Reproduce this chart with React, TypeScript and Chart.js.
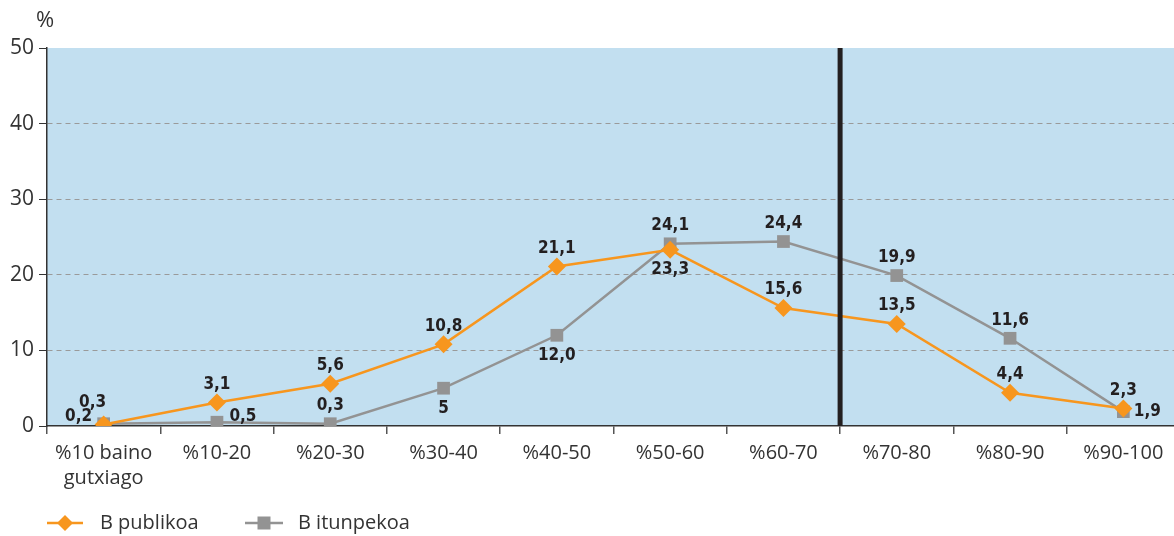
import React, { useEffect, useRef } from "react";
import { Chart, registerables } from "chart.js";

Chart.register(...registerables);

const categories: (string | string[])[] = [
  ["%10 baino", "gutxiago"],
  "%10-20",
  "%20-30",
  "%30-40",
  "%40-50",
  "%50-60",
  "%60-70",
  "%70-80",
  "%80-90",
  "%90-100",
];

const publikoa = [0.2, 3.1, 5.6, 10.8, 21.1, 23.3, 15.6, 13.5, 4.4, 2.3];
const itunpekoa = [0.3, 0.5, 0.3, 5, 12.0, 24.1, 24.4, 19.9, 11.6, 1.9];

const publikoaLabels = ["0,2", "3,1", "5,6", "10,8", "21,1", "23,3", "15,6", "13,5", "4,4", "2,3"];
const itunpekoaLabels = ["0,3", "0,5", "0,3", "5", "12,0", "24,1", "24,4", "19,9", "11,6", "1,9"];

const yTicks = [0, 10, 20, 30, 40, 50];

// label placement (style, not data)
const publikoaPlace = ["left", "above", "above", "above", "above", "below", "above", "above", "above", "above"];
const itunpekoaPlace = ["aboveLeft", "rightUp", "above", "below", "below", "above", "above", "above", "above", "right"];

const ORANGE = "#F7961E";
const GRAY = "#939393";
const BG = "#C2DFF0";
const TEXT = "#333333";

const offsets: Record<string, [number, number]> = {
  above: [0, -18],
  below: [0, 20],
  left: [-25, -8],
  aboveLeft: [-11, -21],
  rightUp: [26, -6],
  right: [24, 0],
};

const plugin = {
  id: "custom",
  beforeDraw(chart: any) {
    const { ctx, chartArea } = chart;
    ctx.save();
    ctx.fillStyle = BG;
    ctx.fillRect(chartArea.left, chartArea.top, chartArea.right - chartArea.left, chartArea.bottom - chartArea.top);
    ctx.restore();
  },
  afterDatasetsDraw(chart: any) {
    const { ctx, chartArea, scales } = chart;
    const xs = scales.x;
    const xd = (xs.getPixelForValue(6) + xs.getPixelForValue(7)) / 2;
    ctx.save();
    ctx.strokeStyle = "#231F20";
    ctx.lineWidth = 5;
    ctx.beginPath();
    ctx.moveTo(xd, chartArea.top);
    ctx.lineTo(xd, chartArea.bottom);
    ctx.stroke();
    ctx.restore();
  },
  afterDraw(chart: any) {
    const { ctx } = chart;
    ctx.save();
    ctx.font = "bold 17px 'Liberation Sans Narrow', 'DejaVu Sans Condensed', sans-serif";
    ctx.fillStyle = "#231F20";
    ctx.textAlign = "center";
    ctx.textBaseline = "middle";
    const sets: [number, string[], string[]][] = [
      [0, publikoaLabels, publikoaPlace],
      [1, itunpekoaLabels, itunpekoaPlace],
    ];
    sets.forEach(([di, labels, places]) => {
      const meta = chart.getDatasetMeta(di);
      meta.data.forEach((pt: any, i: number) => {
        const [dx, dy] = offsets[places[i]];
        ctx.fillText(labels[i], pt.x + dx, pt.y + dy);
      });
    });
    ctx.font = "22px 'Open Sans', sans-serif";
    ctx.fillStyle = TEXT;
    ctx.textAlign = "center";
    ctx.fillText("%", 45, 21);
    const ly = 523;
    const items = [
      { x0: 47, x1: 83, color: ORANGE, style: "diamond", text: "B publikoa", tx: 100 },
      { x0: 245, x1: 283, color: GRAY, style: "square", text: "B itunpekoa", tx: 298 },
    ];
    items.forEach((it) => {
      ctx.strokeStyle = it.color;
      ctx.lineWidth = 2.5;
      ctx.beginPath();
      ctx.moveTo(it.x0, ly);
      ctx.lineTo(it.x1, ly);
      ctx.stroke();
      const cx = (it.x0 + it.x1) / 2;
      ctx.fillStyle = it.color;
      ctx.beginPath();
      if (it.style === "diamond") {
        ctx.moveTo(cx, ly - 8);
        ctx.lineTo(cx + 8, ly);
        ctx.lineTo(cx, ly + 8);
        ctx.lineTo(cx - 8, ly);
        ctx.closePath();
      } else {
        ctx.rect(cx - 6.5, ly - 6.5, 13, 13);
      }
      ctx.fill();
      ctx.fillStyle = TEXT;
      ctx.textAlign = "left";
      ctx.textBaseline = "middle";
      ctx.font = "20px 'Open Sans', sans-serif";
      ctx.fillText(it.text, it.tx, ly);
    });
    ctx.restore();
  },
};

export default function App() {
  const ref = useRef<HTMLCanvasElement>(null);
  useEffect(() => {
    if (!ref.current) return;
    const chart = new Chart(ref.current, {
      type: "line",
      data: {
        labels: categories as any,
        datasets: [
          {
            label: "B publikoa",
            data: publikoa,
            borderColor: ORANGE,
            backgroundColor: ORANGE,
            borderWidth: 2.5,
            pointStyle: "rectRot",
            pointRadius: 9,
            pointBorderWidth: 0,
            pointHoverRadius: 9,
            tension: 0,
          },
          {
            label: "B itunpekoa",
            data: itunpekoa,
            borderColor: GRAY,
            backgroundColor: GRAY,
            borderWidth: 2.5,
            pointStyle: "rect",
            pointRadius: 9,
            pointBorderWidth: 0,
            pointHoverRadius: 9,
            tension: 0,
          },
        ],
      },
      options: {
        responsive: false,
        animation: false,
        events: [],
        layout: { autoPadding: false, padding: { top: 48, right: 0, left: 0, bottom: 0 } },
        plugins: {
          legend: { display: false },
          tooltip: { enabled: false },
        },
        scales: {
          x: {
            type: "category",
            offset: true,
            grid: {
              offset: true,
              drawOnChartArea: false,
              drawTicks: true,
              tickLength: 8,
              color: "#555",
              lineWidth: 1.5,
            },
            border: { display: true, color: "#333", width: 1.5 },
            ticks: {
              color: TEXT,
              font: { family: "'Open Sans', sans-serif", size: 20, lineHeight: 1.25 },
              padding: 7,
              maxRotation: 0,
              autoSkip: false,
            },
            afterFit: (s: any) => {
              s.height = 110;
              s.paddingLeft = 0;
              s.paddingRight = 0;
            },
          },
          y: {
            min: 0,
            max: 50,
            afterBuildTicks: (s: any) => {
              s.ticks = yTicks.map((v) => ({ value: v }));
            },
            grid: {
              color: (c: any) => (c.tick && (c.tick.value === 50 || c.tick.value === 0) ? "rgba(0,0,0,0)" : "#9a9a9a"),
              tickColor: "#333",
              tickLength: 8,
              lineWidth: 1,
              drawTicks: true,
            },
            border: { display: true, color: "#333", width: 1.5, dash: [5, 4] },
            ticks: {
              color: TEXT,
              font: { family: "'Open Sans', sans-serif", size: 21 },
              padding: 5,
            },
            afterFit: (s: any) => {
              s.width = 47;
            },
          },
        },
      } as any,
      plugins: [plugin],
    });
    return () => chart.destroy();
  }, []);
  return (
    <div style={{ position: "absolute", left: 0, top: 0, width: 1174, height: 536, overflow: "hidden", background: "#fff" }}>
      <canvas ref={ref} width={1180} height={536} style={{ display: "block" }} />
    </div>
  );
}
